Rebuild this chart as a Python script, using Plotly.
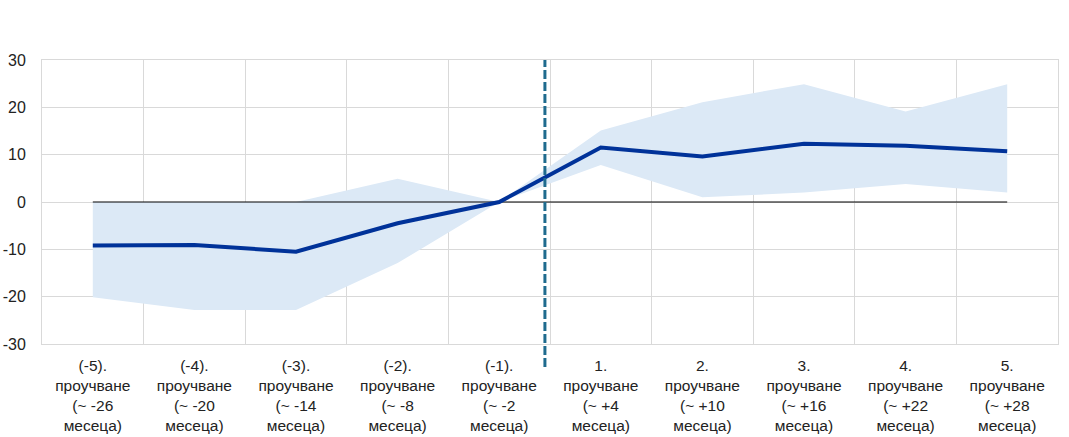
import plotly.graph_objects as go

categories = [
    "(-5).<br>проучване<br>(~ -26<br>месеца)",
    "(-4).<br>проучване<br>(~ -20<br>месеца)",
    "(-3).<br>проучване<br>(~ -14<br>месеца)",
    "(-2).<br>проучване<br>(~ -8<br>месеца)",
    "(-1).<br>проучване<br>(~ -2<br>месеца)",
    "1.<br>проучване<br>(~ +4<br>месеца)",
    "2.<br>проучване<br>(~ +10<br>месеца)",
    "3.<br>проучване<br>(~ +16<br>месеца)",
    "4.<br>проучване<br>(~ +22<br>месеца)",
    "5.<br>проучване<br>(~ +28<br>месеца)",
]
estimate = [-9.2, -9.1, -10.5, -4.5, 0.0, 11.5, 9.6, 12.3, 11.9, 10.7]
upper = [0.0, 0.0, 0.0, 4.9, 0.0, 15.1, 21.1, 24.9, 19.1, 24.9]
lower = [-20.1, -22.8, -22.8, -12.9, 0.0, 7.8, 1.0, 2.0, 3.8, 2.0]
zero = [0, 0, 0, 0, 0, 0, 0, 0, 0, 0]
event_position = 4.45
y_ticks = [-30, -20, -10, 0, 10, 20, 30]
y_tick_labels = ["-30", "-20", "-10", "0", "10", "20", "30"]

x = list(range(len(categories)))

fig = go.Figure()
fig.add_trace(go.Scatter(x=x, y=upper, mode="lines", line=dict(width=0),
                         showlegend=False, hoverinfo="skip"))
fig.add_trace(go.Scatter(x=x, y=lower, mode="lines", line=dict(width=0),
                         fill="tonexty", fillcolor="#dce9f6",
                         showlegend=False, hoverinfo="skip"))
fig.add_trace(go.Scatter(x=x, y=zero, mode="lines", line=dict(color="#000000", width=1.2),
                         showlegend=False, hoverinfo="skip"))
fig.add_trace(go.Scatter(x=x, y=estimate, mode="lines", line=dict(color="#003299", width=4),
                         showlegend=False))

fig.add_shape(type="line", xref="x", yref="paper", x0=event_position, x1=event_position,
              y0=-0.081, y1=1.0, line=dict(color="#1f6b8e", width=3, dash="9px,3px"))

fig.update_layout(
    width=1069, height=437,
    margin=dict(l=42, r=11, t=60, b=93),
    paper_bgcolor="white", plot_bgcolor="white",
    font=dict(family="Liberation Sans, Arial, sans-serif", size=16, color="#222222"),
    xaxis=dict(
        range=[-0.5, len(categories) - 0.5],
        tickmode="array", tickvals=x, ticktext=categories,
        showgrid=False, zeroline=False, ticks="", automargin=False,
        tickfont=dict(size=15.5), ticklabelstandoff=7,
        showline=True, linecolor="#d9d9d9", mirror=True,
        minor=dict(tickmode="array", tickvals=[i + 0.5 for i in x[:-1]],
                   showgrid=True, gridcolor="#d9d9d9", gridwidth=1, ticks=""),
    ),
    yaxis=dict(
        range=[-30, 30], tickmode="array", tickvals=y_ticks, ticktext=y_tick_labels,
        showgrid=True, gridcolor="#d9d9d9", gridwidth=1, automargin=False,
        zeroline=False, ticks="", ticklabelstandoff=12,
        showline=True, linecolor="#d9d9d9", mirror=True,
    ),
)

fig.write_html("out.html",
               config={"displayModeBar": False},
               post_script="document.body.style.margin='0';document.body.style.overflow='hidden';")
